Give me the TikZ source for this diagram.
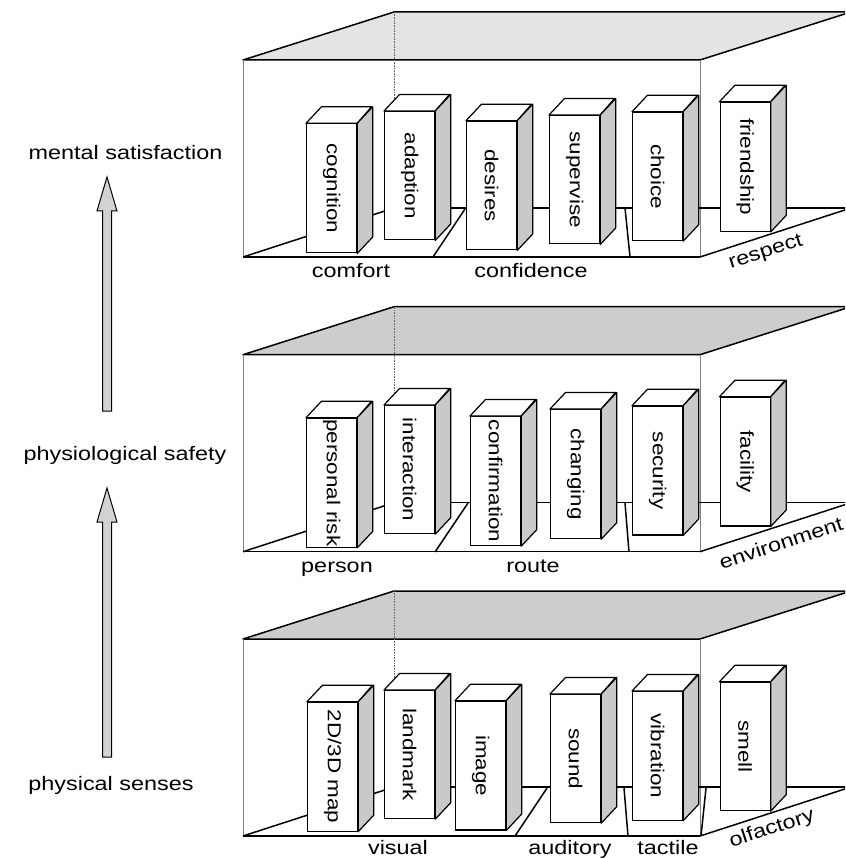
\documentclass[tikz,border=0pt]{standalone}
\usepackage{fontspec}
\setmainfont{Liberation Sans}[FakeStretch=1.2]
\usetikzlibrary{calc}
\definecolor{roofpale}{HTML}{E4E4E4}
\definecolor{roofgray}{HTML}{CDCDCD}
\definecolor{sidegray}{HTML}{C9C9C9}
\definecolor{arrowgray}{HTML}{D2D2D2}
\tikzset{
  edge/.style={line width=1.5pt, line join=round},
  thinv/.style={line width=0.6pt, draw=black!50},
  hidden/.style={line width=0.6pt, densely dotted, draw=black!60},
  crate/.style={draw, fill=white, line width=1.2pt, inner sep=0pt, minimum width=50pt},
  face/.style={draw, line width=1.2pt, line join=round},
  lbl/.style={font=\fontsize{19.5}{22}\selectfont, inner sep=0pt},
  cratetext/.style={font=\fontsize{18.7}{21}\selectfont, inner sep=0pt, rotate=-90},
  blockarrow/.style={draw, fill=arrowgray, line width=1pt, line join=miter},
}
% one standing block: name, left x, top y, bottom y, text
\newcommand\pillar[5]{%
  \node[crate, minimum height={#4-#3}, anchor=north west] (#1) at (#2,#3) {};
  \draw[face, fill=white] (#1.north west) -- ++(15.5,-16.5) -- ++(50,0) -- (#1.north east) -- cycle;
  \draw[face, fill=sidegray] (#1.north east) -- ++(15.5,-16.5) -- ($(#1.south east)+(15.5,-16.5)$) -- (#1.south east) -- cycle;
  \node[cratetext] (#1-t) at (#1.center) {#5};
}
% one shelf: vertical offset, roof colour
\newcommand\shelf[2]{%
  \begin{scope}[shift={(0,#1)}]
    \draw[edge, fill=#2] (243,60) -- (700,60) -- (851,12) -- (394,12) -- cycle;
    \draw[thinv] (243,60) -- (243,257);
    \draw[thinv] (700,60) -- (700,257);
    \draw[hidden] (394,12) -- (394,208);
    \draw[edge] (394,208) -- (851,208);
    \draw[edge] (243,257) -- (394,208);
    \draw[edge] (700,257) -- (851,208);
    \draw[edge] (243,257) -- (700,257);
  \end{scope}
}
\begin{document}
\begin{tikzpicture}[x=1pt,y=-1pt]
\useasboundingbox (0,0) rectangle (845,858);
\clip (0,0) rectangle (845,858);

% ---- level labels and block arrows
\node[lbl, anchor=base] (mental) at (125.5,160) {mental satisfaction};
\node[lbl, anchor=base] (safety) at (125,460) {physiological safety};
\node[lbl, anchor=base] (senses) at (111,790) {physical senses};

\draw[blockarrow] (107,177) -- (117,211) -- (111.5,211) -- (111.5,411)
  -- (102.5,411) -- (102.5,211) -- (97,211) -- cycle;
\draw[blockarrow] (107,488) -- (117,522) -- (111.5,522) -- (111.5,757)
  -- (102.5,757) -- (102.5,522) -- (97,522) -- cycle;

% ---- top shelf
\shelf{0}{roofpale}
\draw[edge] (433,257) -- (465,209);
\draw[edge] (630,257) -- (625,208);
\pillar{cog}{306}{123.3}{252.3}{cognition}
\pillar{ada}{384}{111}{239.3}{adaption}
\pillar{des}{466}{120.7}{249.3}{desires}
\pillar{sup}{549}{115}{243.3}{supervise}
\pillar{cho}{632}{111.7}{240}{choice}
\pillar{fri}{719.5}{101.7}{230.7}{friendship}
\node[lbl, anchor=base] (comfort) at (351,277) {comfort};
\node[lbl, anchor=base] (confidence) at (531,277) {confidence};
\node[lbl, rotate=18] (respect) at (766,253) {respect};

% ---- middle shelf
\shelf{294.7}{roofgray}
\draw[edge] (435,552) -- (468,503);
\draw[edge] (629,552) -- (625,503);
\pillar{per}{306}{417.7}{546.7}{personal risk}
\pillar{int}{384}{405}{533}{interaction}
\pillar{con}{470}{416}{545}{confirmation}
\pillar{chg}{550}{409}{538}{changing}
\pillar{sec}{632}{405.7}{534.3}{security}
\pillar{fac}{719.5}{396.7}{525.3}{facility}
\node[lbl, anchor=base] (person) at (337,572) {person};
\node[lbl, anchor=base] (route) at (533,572) {route};
\node[lbl, rotate=18] (environment) at (781,543) {environment};

% ---- bottom shelf
\shelf{579}{roofgray}
\draw[edge] (515,836) -- (547,788);
\draw[edge] (628,836) -- (624,788);
\draw[edge] (701,836) -- (706,788);
\pillar{map}{307}{701.7}{830.5}{2D/3D map}
\pillar{lan}{384}{690}{818}{landmark}
\pillar{ima}{455}{700.7}{829.3}{image}
\pillar{sou}{550}{694}{822}{sound}
\pillar{vib}{632}{691}{819.5}{vibration}
\pillar{sme}{719.5}{681.7}{810}{smell}
\node[lbl, anchor=base] (visual) at (398,854) {visual};
\node[lbl, anchor=base] (auditory) at (570,854) {auditory};
\node[lbl, anchor=base] (tactile) at (668,854) {tactile};
\node[lbl, rotate=18] (olfactory) at (772,829) {olfactory};
\end{tikzpicture}
\end{document}
